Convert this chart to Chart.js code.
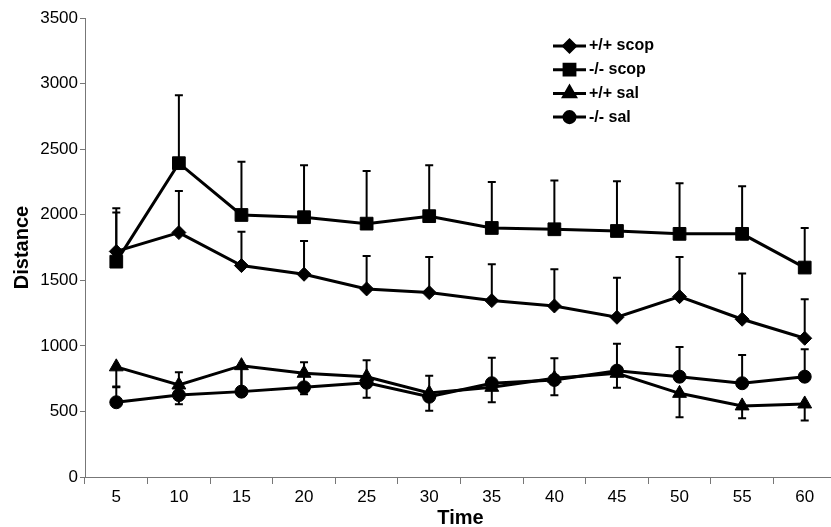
<!DOCTYPE html>
<html>
<head>
<meta charset="utf-8">
<script src="https://cdn.jsdelivr.net/npm/chart.js@4.4.1/dist/chart.umd.min.js"></script>
<style>
html, body { margin: 0; padding: 0; background: #fff; overflow: hidden; }
#wrap { width: 846px; height: 527px; position: relative; }
</style>
</head>
<body>
<div id="wrap"><canvas id="chart"></canvas></div>
<script>
// time bins (min)
const times = ["5", "10", "15", "20", "25", "30", "35", "40", "45", "50", "55", "60"];

// mean distance per group
const wtScop = [1720, 1864, 1612, 1546, 1434, 1406, 1345, 1304, 1218, 1375, 1203, 1058];
const koScop = [1642, 2393, 1998, 1981, 1932, 1989, 1899, 1889, 1876, 1854, 1854, 1597];
const wtSal  = [840, 702, 849, 791, 765, 640, 684, 753, 791, 638, 542, 557];
const koSal  = [570, 625, 651, 684, 719, 612, 715, 740, 811, 765, 715, 765];

// error bars (one-sided)
const wtScopErr = [330, 317, 259, 254, 252, 272, 277, 280, 302, 303, 348, 298];
const koScopErr = [375, 518, 405, 396, 402, 389, 351, 371, 379, 386, 363, 302];
const wtSalErr  = [156, 147, 190, 160, 160, 134, 114, 130, 110, 183, 94, 127];
const koSalErr  = [120, 173, 180, 191, 171, 161, 195, 165, 206, 227, 216, 209];

const yTicks = [0, 500, 1000, 1500, 2000, 2500, 3000, 3500];

// draws the SEM whiskers with the chart's own scales
const errorBars = {
    id: "errorBars",
    afterDatasetsDraw(chart) {
        const ctx = chart.ctx;
        const yScale = chart.scales.y;
        ctx.save();
        ctx.strokeStyle = "#000";
        ctx.lineWidth = 2;
        chart.data.datasets.forEach((ds, i) => {
            const meta = chart.getDatasetMeta(i);
            meta.data.forEach((pt, j) => {
                const y0 = yScale.getPixelForValue(ds.data[j]);
                const y1 = yScale.getPixelForValue(ds.data[j] + ds.errDir * ds.err[j]);
                ctx.beginPath();
                ctx.moveTo(pt.x, y0);
                ctx.lineTo(pt.x, y1);
                ctx.moveTo(pt.x - 4, y1);
                ctx.lineTo(pt.x + 4, y1);
                ctx.stroke();
            });
        });
        ctx.restore();
    }
};

// legend box in the upper right, line + marker like the original
const lineLegend = {
    id: "lineLegend",
    afterDraw(chart, args, opts) {
        const ctx = chart.ctx;
        ctx.save();
        ctx.font = "bold 16px 'Liberation Sans', Arial, sans-serif";
        ctx.textBaseline = "middle";
        chart.data.datasets.forEach((ds, i) => {
            const y = opts.top + i * opts.step;
            ctx.strokeStyle = "#000";
            ctx.fillStyle = "#000";
            ctx.lineWidth = 3;
            ctx.beginPath();
            ctx.moveTo(opts.left, y);
            ctx.lineTo(opts.left + opts.lineLen, y);
            ctx.stroke();
            Chart.helpers.drawPoint(ctx, {
                pointStyle: ds.pointStyle,
                radius: ds.pointRadius * 0.85,
                rotation: 0,
                borderWidth: 1
            }, opts.left + opts.lineLen / 2, y);
            ctx.fillStyle = "#000";
            ctx.fillText(ds.label, opts.left + opts.lineLen + 3, y);
        });
        ctx.restore();
    }
};

function makeSet(label, data, err, dir, style, radius) {
    return {
        label: label,
        data: data,
        err: err,
        errDir: dir,
        borderColor: "#000",
        backgroundColor: "#000",
        borderWidth: 3,
        pointStyle: style,
        pointRadius: radius,
        pointBackgroundColor: "#000",
        pointBorderColor: "#000",
        pointBorderWidth: 1,
        tension: 0
    };
}

const tickFont = { family: "'Liberation Sans', Arial, sans-serif", size: 17 };
const titleFont = { family: "'Liberation Sans', Arial, sans-serif", size: 20, weight: "bold" };

new Chart(document.getElementById("chart"), {
    type: "line",
    data: {
        labels: times,
        datasets: [
            makeSet("+/+ scop", wtScop, wtScopErr, 1, "rectRot", 7),
            makeSet("-/- scop", koScop, koScopErr, 1, "rect", 9),
            makeSet("+/+ sal", wtSal, wtSalErr, -1, "triangle", 8),
            makeSet("-/- sal", koSal, koSalErr, 1, "circle", 6.5)
        ]
    },
    options: {
        responsive: true,
        maintainAspectRatio: false,
        animation: false,
        layout: { padding: { top: 18, right: 7, bottom: 0, left: 0 } },
        plugins: {
            legend: { display: false },
            tooltip: { enabled: false },
            lineLegend: { left: 553, top: 46, step: 23.7, lineLen: 33 }
        },
        scales: {
            x: {
                offset: true,
                grid: { offset: true, drawOnChartArea: false, drawTicks: true, tickLength: 7, color: "#777" },
                border: { color: "#777", width: 1 },
                ticks: { color: "#000", font: tickFont, padding: 3, maxRotation: 0 },
                title: { display: true, text: "Time", color: "#000", font: titleFont, padding: { top: 0, bottom: -3 } },
                afterFit: s => { s.height = 50; }
            },
            y: {
                min: 0,
                max: 3500,
                afterBuildTicks: s => { s.ticks = yTicks.map(v => ({ value: v })); },
                grid: { drawOnChartArea: false, drawTicks: true, tickLength: 5, color: "#777" },
                border: { color: "#777", width: 1 },
                ticks: { color: "#000", font: tickFont, padding: 2, callback: v => String(v) },
                title: { display: true, text: "Distance", color: "#000", font: titleFont, padding: { top: 10, bottom: 0 } },
                afterFit: s => { s.width = 85; }
            }
        }
    },
    plugins: [errorBars, lineLegend]
});
</script>
</body>
</html>
